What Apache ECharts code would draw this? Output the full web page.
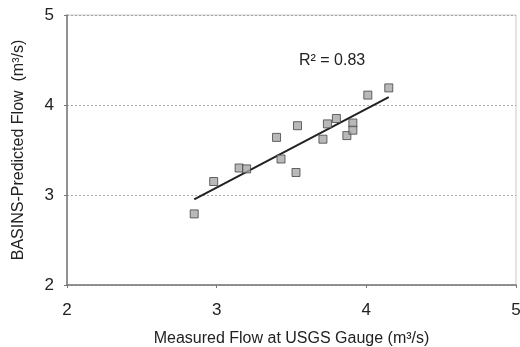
<!DOCTYPE html>
<html><head><meta charset="utf-8">
<script src="https://cdn.jsdelivr.net/npm/echarts@6/dist/echarts.min.js"></script>
<style>html,body{margin:0;padding:0;background:#fff}#c{width:520px;height:347px}</style>
</head><body><div id="c"></div>
<script>
const measured = [2.85, 2.98, 3.15, 3.20, 3.40, 3.43, 3.54, 3.53, 3.71, 3.74, 3.80, 3.87, 3.91, 3.91, 4.01, 4.15];
const predicted = [2.79, 3.15, 3.30, 3.29, 3.64, 3.40, 3.77, 3.25, 3.62, 3.79, 3.85, 3.66, 3.80, 3.72, 4.11, 4.19];
const xTicks = [2, 3, 4, 5];
const yTicks = [2, 3, 4, 5];
const r2Label = 'R² = 0.83';

const pts = measured.map((x, i) => [x, predicted[i]]);
const n = pts.length;
const mx = measured.reduce((a, b) => a + b, 0) / n;
const my = predicted.reduce((a, b) => a + b, 0) / n;
let sxy = 0, sxx = 0;
for (let i = 0; i < n; i++) { sxy += (measured[i] - mx) * (predicted[i] - my); sxx += (measured[i] - mx) ** 2; }
const slope = sxy / sxx, icpt = my - slope * mx;
const xmin = Math.min(...measured), xmax = Math.max(...measured);
const trend = [[xmin, icpt + slope * xmin], [xmax, icpt + slope * xmax]];

const font = 'Liberation Sans, Arial, sans-serif';
const chart = echarts.init(document.getElementById('c'));
chart.setOption({
  animation: false,
  grid: { left: 67, right: 4, top: 15, bottom: 62, show: true, borderColor: '#c8c8c8', borderWidth: 1, outerBoundsMode: 'none', containLabel: false },
  xAxis: {
    type: 'value', min: xTicks[0], max: xTicks[xTicks.length - 1], interval: 1,
    name: 'Measured Flow at USGS Gauge (m³/s)', nameLocation: 'middle', nameGap: 46,
    nameTextStyle: { fontFamily: font, fontSize: 16, color: '#222' },
    axisLine: { show: true, lineStyle: { color: '#777', width: 1.5 } },
    axisTick: { show: true, length: 3, lineStyle: { color: '#777' } },
    axisLabel: { fontFamily: font, fontSize: 17, color: '#222', margin: 17 },
    splitLine: { show: false }
  },
  yAxis: {
    type: 'value', min: yTicks[0], max: yTicks[yTicks.length - 1], interval: 1,
    name: 'BASINS-Predicted Flow  (m³/s)', nameLocation: 'middle', nameGap: 40,
    nameTextStyle: { fontFamily: font, fontSize: 16, color: '#222' },
    axisLine: { show: true, lineStyle: { color: '#777', width: 1.5 } },
    axisTick: { show: true, length: 3, lineStyle: { color: '#777' } },
    axisLabel: { fontFamily: font, fontSize: 17, color: '#222', margin: 13 },
    splitLine: { show: true, lineStyle: { color: '#aaa', type: [2, 2], width: 1 } }
  },
  series: [
    {
      type: 'line', data: trend, symbol: 'none', silent: true,
      lineStyle: { color: '#222', width: 2 }, z: 2
    },
    {
      type: 'scatter', data: pts, symbol: 'rect', symbolSize: 8,
      itemStyle: { color: '#a8a8a8', borderColor: '#444', borderWidth: 1 }, z: 3
    }
  ],
  graphic: [{
    type: 'text', left: 299, top: 53,
    style: { text: r2Label, fontFamily: font, fontSize: 16, fill: '#222' }
  }]
});
</script></body></html>
